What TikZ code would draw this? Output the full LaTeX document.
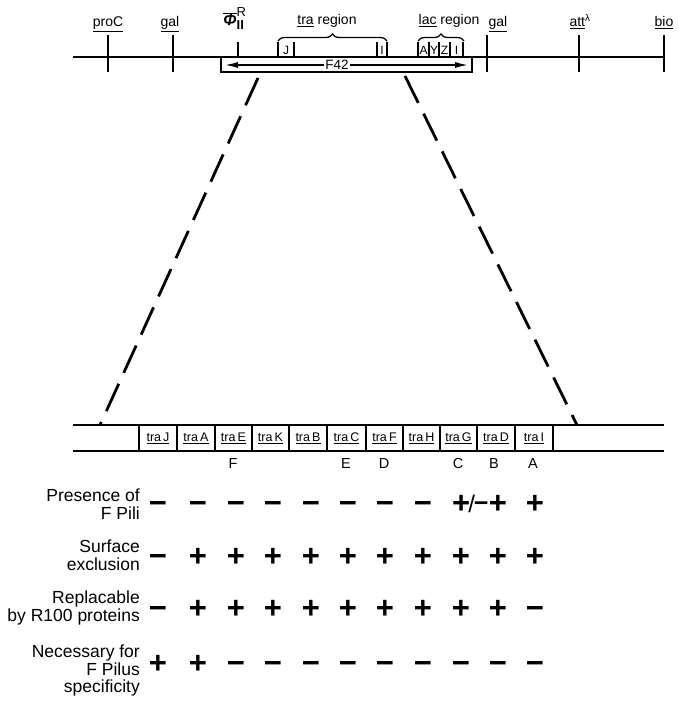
\documentclass[tikz,border=0pt]{standalone}
\usepackage{fontspec}
\setmainfont{Liberation Sans}
\usetikzlibrary{decorations.pathreplacing,arrows.meta}
\begin{document}
\begin{tikzpicture}[x=1pt,y=-1pt,
  mainline/.style={line width=1.9pt},
  tickline/.style={line width=1.6pt},
  segline/.style={line width=1.2pt},
  toplbl/.style={font=\fontsize{14}{16}\selectfont, anchor=base, inner sep=0pt},
  seglbl/.style={font=\fontsize{12}{12}\selectfont, inner sep=0pt},
  bracestyle/.style={line width=1.3pt, decorate, decoration={brace, amplitude=7pt}},
  dashline/.style={line width=2.8pt, dash pattern=on 30pt off 12pt},
  genebox/.style={line width=1.4pt},
  genelbl/.style={font=\fontsize{12.5}{12.5}\selectfont, inner sep=0pt},
  letterlbl/.style={font=\fontsize{14.5}{16}\selectfont, inner sep=0pt},
  sym/.style={font=\fontsize{31}{31}\selectfont\bfseries, anchor=base, inner sep=0pt},
  rowlbl/.style={font=\fontsize{17.5}{17.8}\selectfont, align=right, anchor=north east, inner sep=0pt}
]
\useasboundingbox (0,0) rectangle (679,701);
\fill[white] (0,0) rectangle (679,701);

% ---------- top map ----------
\coordinate (mL) at (73,57);
\coordinate (mR) at (664,57);
\draw[mainline] (mL) -- (mR);

\foreach \x/\nm in {108/proC,173/galA,487/galB,579/att,664/bio}{
  \coordinate (\nm t) at (\x,35);
  \coordinate (\nm b) at (\x,72);
  \draw[tickline] (\nm t) -- (\nm b);
}
\coordinate (phit) at (238,42);
\coordinate (phib) at (238,57);
\draw[tickline] (phit) -- (phib);

\node[toplbl] (lproC) at (108,27) {\underline{proC}};
\node[toplbl] (lgalA) at (170,27) {\underline{gal}};
\node[toplbl] (lgalB) at (498,27) {\underline{gal}};
\node[toplbl] (latt) at (580,27) {\underline{att}\textsuperscript{λ}};
\node[toplbl] (lbio) at (664,27) {\underline{bio}};
\node[toplbl] (lphi) at (235,26) {$\overline{\mbox{\fontsize{16}{16}\selectfont\bfseries\itshape Φ}}^{\mbox{\fontsize{13}{13}\selectfont R}}_{\mbox{\fontsize{13}{13}\selectfont\bfseries II}}$};

\node[toplbl] (ltra) at (327,25) {\underline{tra} region};
\node[toplbl] (llac) at (449,25) {\underline{lac} region};

\draw[bracestyle] (278,41) -- (387,41);
\draw[bracestyle] (418,41) -- (464,41);

\foreach \x in {278,294,377,387,418,429,439,450,463}{
  \draw[segline] (\x,42) -- (\x,57);
}
\node[seglbl] (sJ) at (286,50) {J};
\node[seglbl] (sI) at (382,50) {I};
\node[seglbl] (sA) at (423.5,50) {A};
\node[seglbl] (sY) at (434,50) {Y};
\node[seglbl] (sZ) at (444.5,50) {Z};
\node[seglbl] (sI2) at (456.5,50) {I};

% F42 box
\draw[genebox] (221,57) rectangle (472,72);
\coordinate (arL) at (224,65);
\coordinate (arR) at (469,65);
\draw[line width=1.9pt, {Latex[length=14pt,width=6pt]}-{Latex[length=14pt,width=6pt]}] (arL) -- (arR);
\node[fill=white, inner sep=1.5pt, font=\fontsize{13.5}{14}\selectfont] (f42) at (337,65) {F42};

% ---------- dashed expansion ----------
\coordinate (dA1) at (258,78);
\coordinate (dA2) at (100,425);
\coordinate (dB1) at (405,76);
\coordinate (dB2) at (577,425);
\draw[dashline] (dA1) -- (dA2);
\draw[dashline] (dB1) -- (dB2);

% ---------- bottom map ----------
\coordinate (bL1) at (73,425);
\coordinate (bR1) at (664,425);
\coordinate (bL2) at (73,451);
\coordinate (bR2) at (664,451);
\draw[mainline] (bL1) -- (bR1);
\draw[mainline] (bL2) -- (bR2);

\foreach \l/\r/\n in {139/177/J,177/215/A,215/252/E,252/289/K,289/327/B,327/366/C,366/403/F,403/440/H,440/477/G,477/515/D,515/553/I}{
  \draw[genebox] (\l,425) rectangle (\r,451);
  \node[genelbl] (g\n) at ({(\l+\r)/2},438) {\underline{tra\,\n}};
}

\node[letterlbl] (kF) at (233,464) {F};
\node[letterlbl] (kE) at (346,464) {E};
\node[letterlbl] (kD) at (384,464) {D};
\node[letterlbl] (kC) at (458,464) {C};
\node[letterlbl] (kB) at (494,464) {B};
\node[letterlbl] (kA) at (533,464) {A};

% ---------- table ----------
\node[rowlbl] (r1) at (140,488.7) {Presence of\\F Pili};
\node[rowlbl] (r2) at (140,540) {Surface\\exclusion};
\node[rowlbl] (r3) at (140,590.5) {Replacable\\by R100 proteins};
\node[rowlbl] (r4) at (140,644.5) {Necessary for\\F Pilus\\specificity};

% row 1
\foreach \x [count=\i] in {158,198,236,273,311,348,385,423}{
  \node[sym] (p1\i) at (\x,513.5) {−};
}
\node[sym, anchor=base west] (p19) at (452,513.5) {+\kern-2pt\raisebox{1pt}{\fontsize{24}{24}\selectfont\mdseries/}\kern-1pt\raisebox{2pt}{\fontsize{25}{25}\selectfont −}};
\node[sym] (p110) at (498,513.5) {+};
\node[sym] (p111) at (535,513.5) {+};

% row 2
\node[sym] (p21) at (158,566.5) {−};
\foreach \x [count=\i] in {198,236,273,311,348,385,423,461,498,535}{
  \node[sym] (p2x\i) at (\x,566.5) {+};
}

% row 3
\node[sym] (p31) at (158,618.5) {−};
\foreach \x [count=\i] in {198,236,273,311,348,385,423,461,498}{
  \node[sym] (p3x\i) at (\x,618.5) {+};
}
\node[sym] (p311) at (535,618.5) {−};

% row 4
\node[sym] (p41) at (158,673.5) {+};
\node[sym] (p42) at (198,673.5) {+};
\foreach \x [count=\i] in {236,273,311,348,385,423,461,498,535}{
  \node[sym] (p4x\i) at (\x,673.5) {−};
}
\end{tikzpicture}
\end{document}
